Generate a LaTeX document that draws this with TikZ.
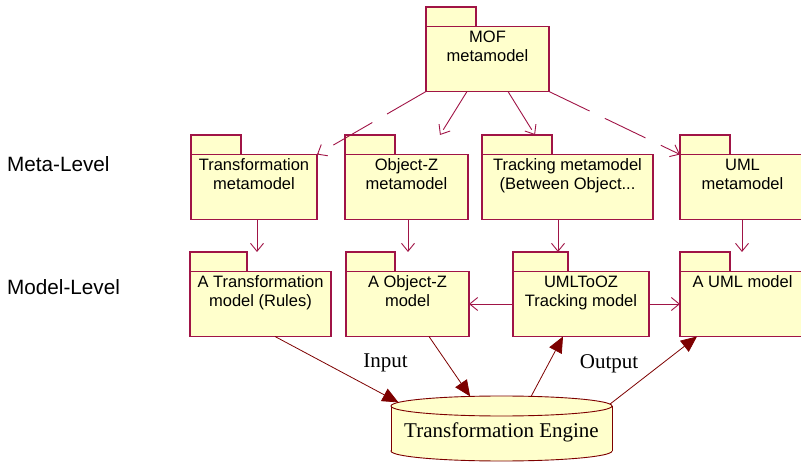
\documentclass[tikz,border=0pt]{standalone}
\usepackage{fontspec}
\setmainfont{Liberation Serif}
\setsansfont{Liberation Sans}
\usetikzlibrary{arrows.meta,shapes.geometric}

\definecolor{pkgline}{RGB}{160,20,70}
\definecolor{pkgfill}{RGB}{255,255,204}
\definecolor{flowline}{RGB}{125,0,0}

% UML package: tab on top, body below, centred text in the body
% #1 name, #2 left x, #3 tab top y, #4 body width, #5 tab width, #6 text
\newcommand\umlpackage[6]{%
  \node[pkgpart, minimum width=#5pt, minimum height=20pt] (#1-tab) at (#2,#3) {};
  \node[pkgpart, minimum width=#4pt, minimum height=65pt] (#1) at (#2,#3+19.5) {};
  \node[pkgtext] (#1-text) at ([yshift=-4pt]#1.north) {#6};
}

\begin{document}
\begin{tikzpicture}[x=1pt, y={(0,-1pt)},
  pkgpart/.style={draw=pkgline, fill=pkgfill, line width=1.1pt, rectangle,
    inner sep=0pt, outer sep=0pt, anchor=north west},
  pkgtext/.style={font=\sffamily\fontsize{16.5}{19}\selectfont, align=center,
    inner sep=0pt, anchor=north},
  levellabel/.style={font=\sffamily\fontsize{20.7}{24}\selectfont, anchor=base west,
    inner sep=0pt},
  flowlabel/.style={font=\rmfamily\fontsize{21}{24}\selectfont, anchor=base, inner sep=0pt},
  dep/.style={draw=pkgline, line width=0.9pt, -{Straight Barb[length=8pt,width=13pt]}},
  metadep/.style={dep, dash pattern=on 45pt off 17pt},
  flowarrow/.style={draw=flowline, line width=0.8pt, -{Triangle[length=16pt,width=14pt]}},
  engineface/.style={ellipse, draw=flowline, fill=pkgfill, line width=0.9pt,
    minimum width=221pt, minimum height=20pt, inner sep=0pt, outer sep=0pt}]

\clip (0,0) rectangle (801,462);

% level captions
\node[levellabel] (metalevel) at (7,172) {Meta-Level};
\node[levellabel] (modellevel) at (7,295) {Model-Level};

% packages
\umlpackage{mof}{426}{7}{123}{50}{MOF\\metamodel}
\umlpackage{trmm}{191}{135}{126}{50}{Transformation\\metamodel}
\umlpackage{ozmm}{345}{135}{123}{50}{Object-Z\\metamodel}
\umlpackage{trkmm}{482}{135}{171}{70}{Tracking metamodel\\(Between Object...}
\umlpackage{umlmm}{680}{135}{125}{50}{UML\\metamodel}

\umlpackage{trm}{190}{252}{141}{57}{A Transformation\\model (Rules)}
\umlpackage{ozm}{346}{252}{123}{49}{A Object-Z\\model}
\umlpackage{u2oz}{513}{252}{136}{55}{UMLToOZ\\Tracking model}
\umlpackage{umlm}{680}{252}{125}{50}{A UML model}

% MOF instantiation dependencies
\draw[metadep] (mof.south west) -- (trmm.north east);
\draw[metadep] (mof.south -| 467,0) -- (ozmm-tab.north -| 440,0);
\draw[metadep] (mof.south -| 508,0) -- (trkmm-tab.north -| 535,0);
\draw[metadep] (mof.south east) -- (umlmm.north west);

% metamodel to model dependencies
\draw[dep] (trmm.south -| 257,0) -- (trm-tab.north -| 257,0);
\draw[dep] (ozmm.south -| 408,0) -- (ozm-tab.north -| 408,0);
\draw[dep] (trkmm.south -| 558,0) -- (u2oz-tab.north -| 558,0);
\draw[dep] (umlmm.south -| 742,0) -- (umlm-tab.north -| 742,0);

% tracking model links
\draw[dep] (u2oz.west) -- (ozm.east);
\draw[dep] (u2oz.east) -- (umlm.west);

% transformation engine (cylinder)
\node[engineface] (enginebottom) at (501.5,451) {};
\fill[pkgfill] (391,406) rectangle (612,451);
\draw[flowline, line width=0.9pt] (391,406) -- (391,451) (612,406) -- (612,451);
\node[engineface] (engine) at (501.5,406) {};
\node[flowlabel] (enginetext) at (501.5,437) {Transformation Engine};

% engine inputs and outputs
\draw[flowarrow] (trm.south -| 275,0) -- (engine.178);
\draw[flowarrow] (ozm.south -| 429,0) -- (engine.163.5);
\draw[flowarrow] (engine.18.8) -- (u2oz.south -| 563,0);
\draw[flowarrow] (engine.1.9) -- (umlm.south -| 697,0);

\node[flowlabel] (inputlabel) at (385.5,368) {Input};
\node[flowlabel] (outputlabel) at (609,369) {Output};

\end{tikzpicture}
\end{document}
